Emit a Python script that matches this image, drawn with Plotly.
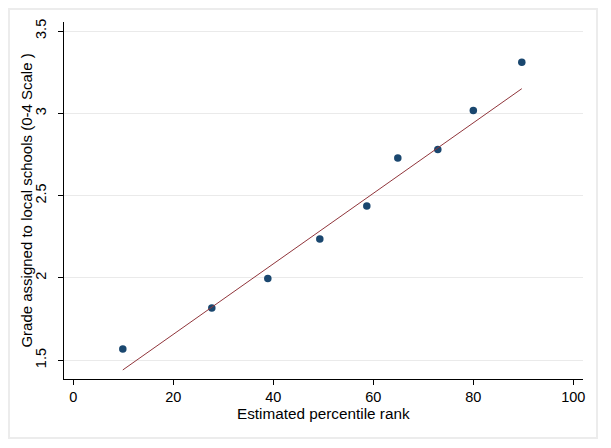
import plotly.graph_objects as go

# Data
percentile_rank = [9.9, 27.7, 38.9, 49.3, 58.7, 64.9, 72.9, 80.0, 89.7]
grade = [1.569, 1.817, 1.996, 2.236, 2.437, 2.728, 2.780, 3.018, 3.311]
fit_x = [9.9, 89.7]
fit_y = [1.441, 3.150]
x_ticks = [0, 20, 40, 60, 80, 100]
y_ticks = [1.5, 2, 2.5, 3, 3.5]
y_tick_labels = ["1.5", "2", "2.5", "3", "3.5"]

FONT = "Liberation Sans, Arial, sans-serif"

# plot area: 519 x 357 px
PW, PH = 519, 357
L, T = 56, 14

fig = go.Figure()
fig.add_trace(go.Scatter(
    x=percentile_rank, y=grade, mode="markers",
    marker=dict(color="#1a476f", size=7.5, line=dict(width=0)),
    showlegend=False, cliponaxis=False,
))
fig.add_trace(go.Scatter(
    x=fit_x, y=fit_y, mode="lines",
    line=dict(color="#90353b", width=1),
    showlegend=False,
))

fig.update_layout(
    width=611, height=448,
    margin=dict(l=L, r=611 - L - PW, t=T, b=448 - T - PH, autoexpand=False),
    paper_bgcolor="white", plot_bgcolor="white",
    font=dict(family=FONT, size=14.5, color="#000000"),
    xaxis=dict(
        range=[-1.86, 101.94], tickvals=x_ticks, automargin=False,
        showgrid=False, zeroline=False,
        showline=True, linecolor="#000000", linewidth=1,
        ticks="outside", ticklen=5, tickcolor="#000000", tickwidth=1,
        tickfont=dict(size=14.5),
    ),
    yaxis=dict(
        range=[1.386, 3.555], tickvals=y_ticks, ticktext=y_tick_labels,
        automargin=False,
        showgrid=True, gridcolor="#eaeaea", gridwidth=1, zeroline=False,
        showline=True, linecolor="#000000", linewidth=1,
        ticks="outside", ticklen=5, tickcolor="#000000", tickwidth=1,
        tickangle=-90, tickfont=dict(size=14.5), ticklabelstandoff=6,
    ),
    annotations=[
        dict(text="Estimated percentile rank", xref="paper", yref="paper",
             x=0.5, y=-0.066, xanchor="center", yanchor="top",
             showarrow=False, font=dict(size=15.3)),
        dict(text="Grade assigned to local schools (0-4 Scale )", xref="paper", yref="paper",
             x=-0.073, y=0.5, xanchor="center", yanchor="middle", textangle=-90,
             showarrow=False, font=dict(size=15)),
    ],
    shapes=[
        dict(type="rect", xref="paper", yref="paper",
             x0=(1 - L) / PW, x1=(589 - L) / PW,
             y0=-(430 - T - PH) / PH, y1=(T + PH - 1) / PH,
             line=dict(color="#ececec", width=2), fillcolor="rgba(0,0,0,0)", layer="below"),
    ],
)

fig.write_html("out.html")
